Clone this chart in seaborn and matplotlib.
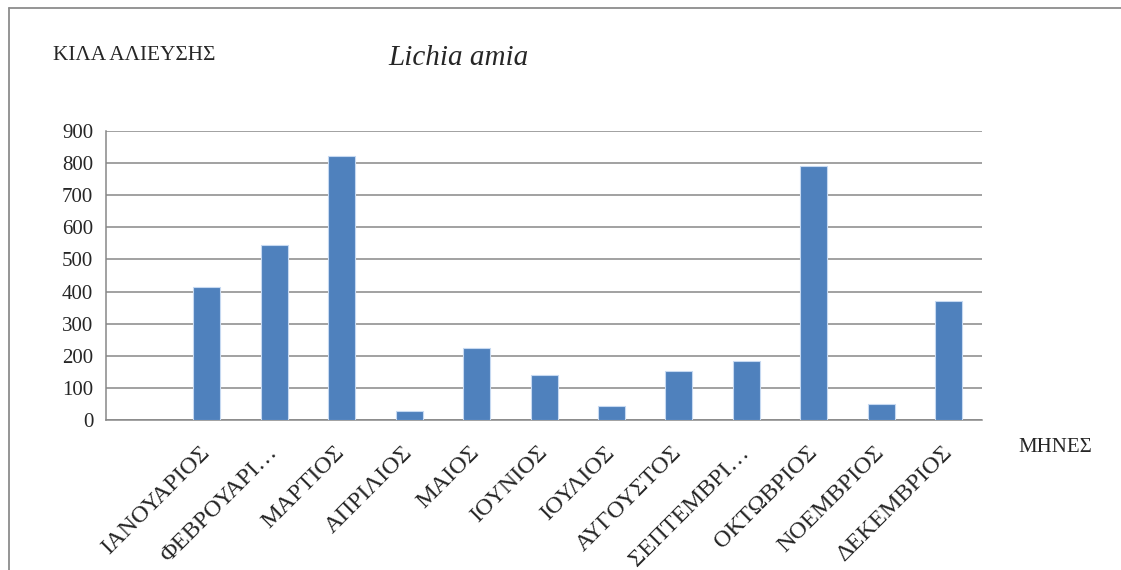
import matplotlib
matplotlib.use("Agg")
import matplotlib.pyplot as plt
from matplotlib.lines import Line2D
import seaborn as sns
import pandas as pd
import numpy as np

# ---- data ----
slots = ["", "ΙΑΝΟΥΑΡΙΟΣ", "ΦΕΒΡΟΥΑΡΙ…", "ΜΑΡΤΙΟΣ", "ΑΠΡΙΛΙΟΣ", "ΜΑΙΟΣ", "ΙΟΥΝΙΟΣ",
         "ΙΟΥΛΙΟΣ", "ΑΥΓΟΥΣΤΟΣ", "ΣΕΠΤΕΜΒΡΙ…", "ΟΚΤΩΒΡΙΟΣ", "ΝΟΕΜΒΡΙΟΣ", "ΔΕΚΕΜΒΡΙΟΣ"]
months = slots[1:]
kilos = [415, 544, 820, 30, 226, 140, 45, 154, 184, 791, 50, 371]
yticks = [0, 100, 200, 300, 400, 500, 600, 700, 800, 900]

title = "Lichia amia"
ylabel = "ΚΙΛΑ ΑΛΙΕΥΣΗΣ"
xlabel = "ΜΗΝΕΣ"

sns.set_style("white")
plt.rcParams["font.family"] = ["Liberation Serif", "DejaVu Serif"]

df = pd.DataFrame({"month": months, "kilos": kilos})

fig = plt.figure(figsize=(11.21, 5.70), dpi=100)
ax = fig.add_axes([0.0943, 0.2626, 0.782, 0.5082])

grid_col = "#878787"
sns.barplot(data=df, x="month", y="kilos", order=slots, color="#4F81BD",
            width=0.4, saturation=1, edgecolor="#C6D9F1", linewidth=0.8, ax=ax, zorder=3)

ax.set_xlim(-0.5, len(slots) - 0.5)
ax.set_ylim(0, 900)
ax.set_yticks(yticks)
ax.set_yticklabels([str(v) for v in yticks], fontsize=15)
ax.yaxis.grid(True, color=grid_col, linewidth=1.1, zorder=0)
ax.set_axisbelow(True)

# category labels at centres, tick marks at boundaries
ax.set_xticks(np.arange(len(slots)))
ax.set_xticklabels(slots, rotation=45, ha="right", va="center", rotation_mode="anchor", fontsize=17.5)
ax.tick_params(axis="x", which="major", length=0, pad=21)
ax.set_xticks(np.arange(len(slots) + 1) - 0.5, minor=True)
ax.tick_params(axis="x", which="minor", length=5, width=1.1, color=grid_col, direction="out")
ax.tick_params(axis="y", length=5, width=1.1, color=grid_col, direction="out", pad=4)

for s in ["top", "right"]:
    ax.spines[s].set_visible(False)
for s in ["left", "bottom"]:
    ax.spines[s].set_color(grid_col)
    ax.spines[s].set_linewidth(1.1)

ax.set_xlabel("")
ax.set_ylabel("")

fig.text(53 / 1121, 1 - 55 / 570, ylabel, fontsize=15.3, ha="left", va="center")
fig.text(388 / 1121, 1 - 58 / 570, title, fontsize=21, style="italic", ha="left", va="center")
fig.text(1018 / 1121, 1 - 448 / 570, xlabel, fontsize=15, ha="left", va="center")

# outer chart border (partly cut off)
fig.add_artist(Line2D([9 / 1121, 1.0], [1 - 8 / 570, 1 - 8 / 570], color="#8C8C8C", linewidth=1.3,
                      transform=fig.transFigure))
fig.add_artist(Line2D([9 / 1121, 9 / 1121], [0.0, 1 - 8 / 570], color="#8C8C8C", linewidth=1.3,
                      transform=fig.transFigure))

fig.savefig("out.png", dpi=100, facecolor="white")
